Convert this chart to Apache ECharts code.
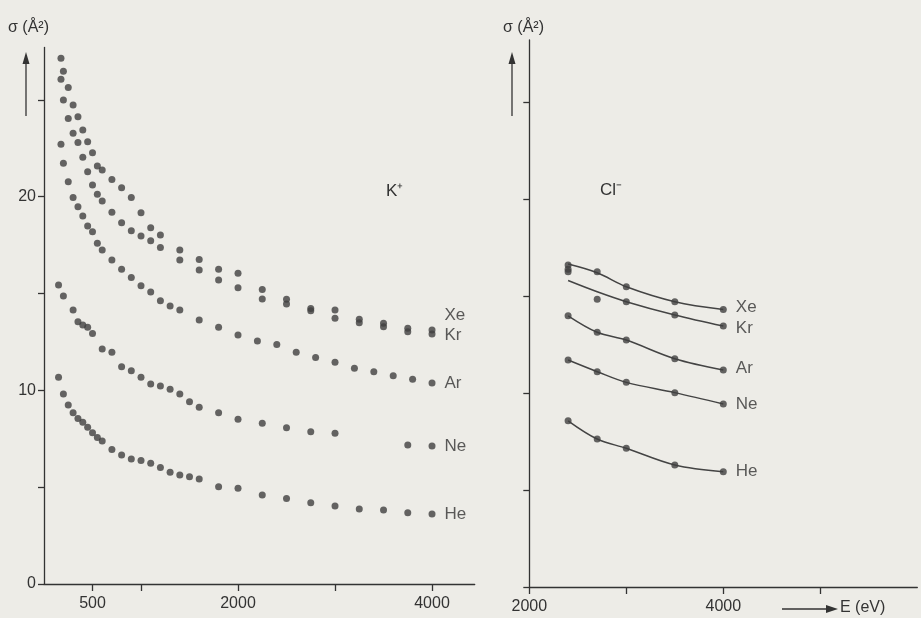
<!DOCTYPE html>
<html>
<head>
<meta charset="utf-8">
<script src="https://cdn.jsdelivr.net/npm/echarts@6/dist/echarts.min.js"></script>
<style>
  html, body { margin: 0; padding: 0; background: #edece7; }
  #chart { width: 921px; height: 618px; }
</style>
</head>
<body>
<div id="chart"></div>
<script>
// K+ panel: energies (eV) and cross sections (A^2)
const xeKrE = [175, 200, 250, 300, 350, 400, 450, 500, 550, 600, 700, 800, 900, 1000, 1100, 1200, 1400, 1600, 1800, 2000, 2250, 2500, 2750, 3000, 3250, 3500, 3750, 4000];
const kXe = [27.15, 26.48, 25.64, 24.73, 24.12, 23.44, 22.83, 22.27, 21.58, 21.37, 20.89, 20.46, 19.96, 19.17, 18.39, 18.02, 17.24, 16.76, 16.25, 16.04, 15.21, 14.70, 14.23, 14.15, 13.67, 13.46, 13.20, 13.11];
const kKr = [26.06, 24.99, 24.04, 23.27, 22.80, 22.03, 21.29, 20.60, 20.12, 19.77, 19.19, 18.65, 18.24, 17.97, 17.72, 17.38, 16.73, 16.21, 15.69, 15.30, 14.71, 14.46, 14.11, 13.72, 13.49, 13.28, 13.03, 12.91];
const arE = [175, 200, 250, 300, 350, 400, 450, 500, 550, 600, 700, 800, 900, 1000, 1100, 1200, 1300, 1400, 1600, 1800, 2000, 2200, 2400, 2600, 2800, 3000, 3200, 3400, 3600, 3800, 4000];
const kAr = [22.70, 21.72, 20.77, 19.96, 19.48, 19.00, 18.48, 18.19, 17.59, 17.24, 16.73, 16.25, 15.83, 15.40, 15.07, 14.63, 14.35, 14.15, 13.63, 13.25, 12.85, 12.55, 12.37, 11.96, 11.70, 11.45, 11.14, 10.96, 10.75, 10.57, 10.38];
const neE = [150, 200, 300, 350, 400, 450, 500, 600, 700, 800, 900, 1000, 1100, 1200, 1300, 1400, 1500, 1600, 1800, 2000, 2250, 2500, 2750, 3000, 3750, 4000];
const kNe = [15.44, 14.87, 14.15, 13.54, 13.37, 13.25, 12.94, 12.13, 11.96, 11.22, 11.01, 10.67, 10.33, 10.22, 10.05, 9.81, 9.41, 9.12, 8.84, 8.50, 8.30, 8.07, 7.86, 7.78, 7.18, 7.12];
const heE = [150, 200, 250, 300, 350, 400, 450, 500, 550, 600, 700, 800, 900, 1000, 1100, 1200, 1300, 1400, 1500, 1600, 1800, 2000, 2250, 2500, 2750, 3000, 3250, 3500, 3750, 4000];
const kHe = [10.67, 9.81, 9.24, 8.84, 8.55, 8.35, 8.09, 7.81, 7.57, 7.38, 6.95, 6.66, 6.45, 6.37, 6.23, 6.02, 5.77, 5.63, 5.54, 5.42, 5.02, 4.94, 4.59, 4.42, 4.20, 4.03, 3.87, 3.82, 3.68, 3.61];

// Cl- panel: measured points and fitted curves
const clE = [2400, 2700, 3000, 3500, 4000];
const clXe = [16.60, 16.25, 15.48, 14.71, 14.31];
const clKrE = [2400, 2400, 2700, 3000, 3500, 4000];
const clKr = [16.38, 16.25, 14.83, 14.71, 14.02, 13.45];
const clAr = [13.98, 13.13, 12.73, 11.77, 11.19];
const clNe = [11.70, 11.10, 10.55, 10.02, 9.43];
const clHe = [8.57, 7.63, 7.15, 6.29, 5.94];
const fitXe = [16.65, 16.20, 15.48, 14.71, 14.31];
const fitKr = [15.80, 15.22, 14.71, 14.02, 13.45];
const fitAr = clAr;
const fitNe = clNe;
const fitHe = clHe;

// axis ticks / labels
const leftTicks = [500, 1000, 2000, 3000, 4000];
const leftLabels = [500, 2000, 4000];
const rightTicks = [2000, 3000, 4000, 5000];
const rightLabels = [2000, 4000];
const yTicks = [0, 5, 10, 15, 20, 25];
const yLabels = [0, 10, 20];

const ink = '#333333';
const font = '"Liberation Sans", Arial, sans-serif';

const pts = (es, vs, name, offset) => es.map((e, i) => {
  if (name && i === es.length - 1) {
    return {
      value: [e, vs[i]],
      label: {
        show: true, position: 'right', distance: 9, offset: offset || [0, 0],
        formatter: name, color: ink, fontSize: 17, fontFamily: font
      }
    };
  }
  return [e, vs[i]];
});

const dot = (es, vs, axis, name, offset) => ({
  type: 'scatter',
  xAxisIndex: axis, yAxisIndex: axis,
  symbolSize: 7,
  itemStyle: { color: '#404040' },
  data: pts(es, vs, name, offset),
  z: 3
});

const fit = (vs) => ({
  type: 'line',
  xAxisIndex: 1, yAxisIndex: 1,
  smooth: 0.35,
  showSymbol: false,
  lineStyle: { color: '#444', width: 1.5 },
  data: clE.map((e, i) => [e, vs[i]]),
  z: 2
});

const xAxisBase = (min, max, ticks, labels, grid) => ({
  type: 'value', gridIndex: grid, min, max,
  axisLine: { show: true, onZero: false, lineStyle: { color: ink, width: 1.3 } },
  axisTick: { show: true, customValues: ticks, length: 7, lineStyle: { color: ink, width: 1.3 } },
  axisLabel: { customValues: labels, formatter: v => String(v), color: ink, fontSize: 16, fontFamily: font, margin: 12 },
  splitLine: { show: false }
});

const yAxisBase = (max, grid, showLabels) => ({
  type: 'value', gridIndex: grid, min: 0, max,
  axisLine: { show: true, lineStyle: { color: ink, width: 1.3 } },
  axisTick: { show: true, customValues: yTicks, length: 6, lineStyle: { color: ink, width: 1.3 } },
  axisLabel: { show: showLabels, customValues: yLabels, color: ink, fontSize: 16, fontFamily: font, margin: 8 },
  splitLine: { show: false }
});

const chart = echarts.init(document.getElementById('chart'));

const option = {
  backgroundColor: '#edece7',
  animation: false,
  grid: [
    { left: 44, top: 47.5, width: 430.7, height: 536.5 },
    { left: 529.3, top: 40, width: 388, height: 547 }
  ],
  xAxis: [
    xAxisBase(0, 4440, leftTicks, leftLabels, 0),
    xAxisBase(2000, 6000, rightTicks, rightLabels, 1)
  ],
  yAxis: [
    yAxisBase(27.7, 0, true),
    yAxisBase(28.2, 1, false)
  ],
  series: [
    dot(xeKrE, kXe, 0, 'Xe', [0, -15]),
    dot(xeKrE, kKr, 0, 'Kr', [0, 1]),
    dot(arE, kAr, 0, 'Ar'),
    dot(neE, kNe, 0, 'Ne'),
    dot(heE, kHe, 0, 'He'),
    fit(fitXe), fit(fitKr), fit(fitAr), fit(fitNe), fit(fitHe),
    dot(clE, clXe, 1, 'Xe', [0, -2]),
    dot(clKrE, clKr, 1, 'Kr', [0, 2]),
    dot(clE, clAr, 1, 'Ar', [0, -2]),
    dot(clE, clNe, 1, 'Ne'),
    dot(clE, clHe, 1, 'He')
  ],
  graphic: [
    { type: 'text', left: 8, top: 20, style: { text: 'σ (Å²)', fill: ink, font: '16px ' + font } },
    { type: 'line', shape: { x1: 26, y1: 116, x2: 26, y2: 62 }, style: { stroke: ink, lineWidth: 1.3 } },
    { type: 'polygon', shape: { points: [[26, 52], [22.5, 64], [29.5, 64]] }, style: { fill: ink } },
    { type: 'text', left: 503, top: 20, style: { text: 'σ (Å²)', fill: ink, font: '16px ' + font } },
    { type: 'line', shape: { x1: 512, y1: 116, x2: 512, y2: 62 }, style: { stroke: ink, lineWidth: 1.3 } },
    { type: 'polygon', shape: { points: [[512, 52], [508.5, 64], [515.5, 64]] }, style: { fill: ink } },
    { type: 'text', left: 386, top: 183, style: { text: 'K⁺', fill: ink, font: '17px ' + font } },
    { type: 'text', left: 600, top: 182, style: { text: 'Cl⁻', fill: ink, font: '17px ' + font } },
    { type: 'line', shape: { x1: 782, y1: 609, x2: 828, y2: 609 }, style: { stroke: ink, lineWidth: 1.3 } },
    { type: 'polygon', shape: { points: [[838, 609], [826, 605], [826, 613]] }, style: { fill: ink } },
    { type: 'text', left: 840, top: 600, style: { text: 'E (eV)', fill: ink, font: '16px ' + font } }
  ]
};

chart.setOption(option);
</script>
</body>
</html>
